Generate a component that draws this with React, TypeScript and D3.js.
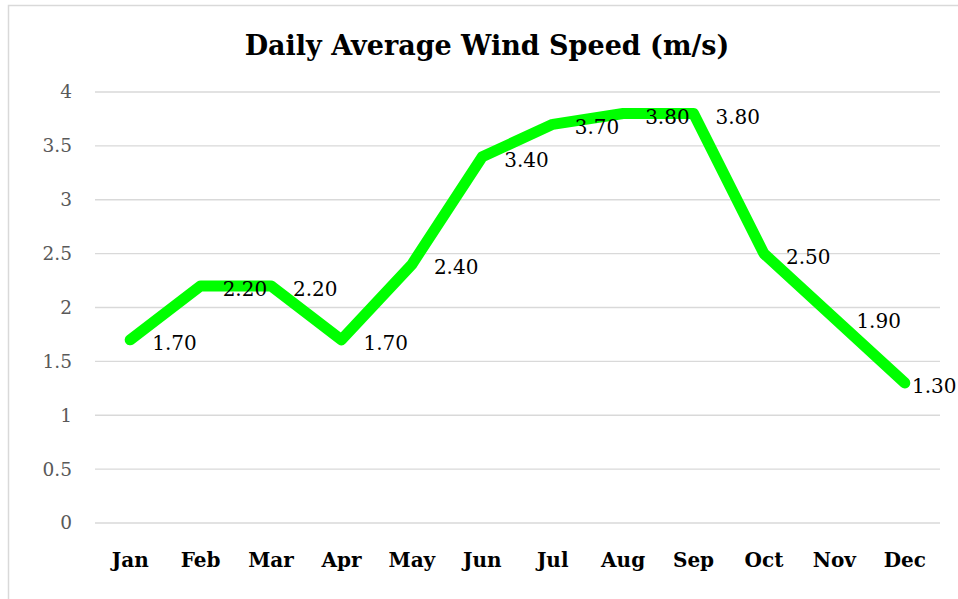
import React from "react";
import * as d3 from "d3";

const months = ["Jan", "Feb", "Mar", "Apr", "May", "Jun", "Jul", "Aug", "Sep", "Oct", "Nov", "Dec"];
const windSpeed = [1.7, 2.2, 2.2, 1.7, 2.4, 3.4, 3.7, 3.8, 3.8, 2.5, 1.9, 1.3];
const yTicks = [0, 0.5, 1, 1.5, 2, 2.5, 3, 3.5, 4];

const W = 958;
const H = 599;
const plot = { left: 95, right: 940, top: 92, bottom: 523 };
const serif = "'DejaVu Serif', serif";

export default function App() {
  const x = d3.scaleBand<string>().domain(months).range([plot.left, plot.right]);
  const y = d3.scaleLinear().domain([0, 4]).range([plot.bottom, plot.top]);
  const cx = (m: string) => (x(m) ?? 0) + x.bandwidth() / 2;

  const line = d3
    .line<number>()
    .x((_, i) => cx(months[i]))
    .y((d) => y(d));

  return (
    <svg
      width={W}
      height={H}
      style={{ position: "absolute", left: 0, top: 0, background: "#fff" }}
    >
      {/* chart area border */}
      <rect x={8.5} y={5.5} width={W + 20} height={H + 20} fill="#fff" stroke="#d9d9d9" strokeWidth={1.5} />

      <text x={487} y={55} textAnchor="middle" fontFamily={serif} fontWeight="bold" fontSize={27} fill="#000">
        Daily Average Wind Speed (m/s)
      </text>

      {yTicks.map((t) => (
        <g key={t}>
          <line x1={plot.left} x2={plot.right} y1={y(t)} y2={y(t)} stroke="#d9d9d9" strokeWidth={1.3} />
          <text x={72} y={y(t)} dy="0.35em" textAnchor="end" fontFamily={serif} fontSize={18.5} fill="#595959">
            {t}
          </text>
        </g>
      ))}

      {months.map((m) => (
        <text key={m} x={cx(m)} y={567} textAnchor="middle" fontFamily={serif} fontWeight="bold" fontSize={20} fill="#000">
          {m}
        </text>
      ))}

      <path
        d={line(windSpeed) ?? ""}
        fill="none"
        stroke="#00ff00"
        strokeWidth={11}
        strokeLinecap="round"
        strokeLinejoin="round"
      />

      {windSpeed.map((v, i) => (
        <text
          key={i}
          x={Math.min(cx(months[i]) + 22, 912)}
          y={y(v) + 10}
          fontFamily={serif}
          fontSize={20}
          fill="#000"
        >
          {v.toFixed(2)}
        </text>
      ))}
    </svg>
  );
}
